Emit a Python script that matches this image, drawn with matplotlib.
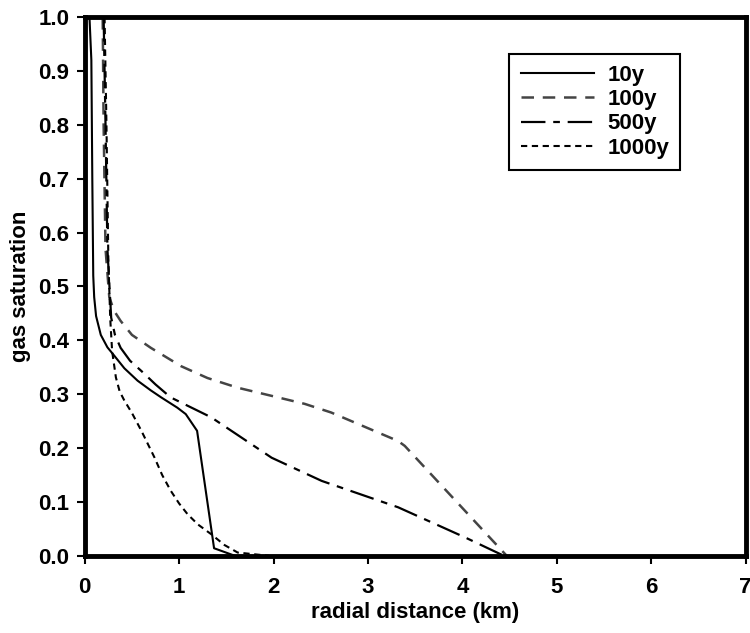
import matplotlib
matplotlib.use('Agg')
import matplotlib.pyplot as plt

plt.rcParams['font.family'] = ['Liberation Sans', 'DejaVu Sans']
plt.rcParams['font.weight'] = 'bold'

# Donnees (distance en km, saturation en gaz)
x_10 = [0.05, 0.07, 0.08, 0.09, 0.10, 0.12, 0.17, 0.24, 0.31, 0.42, 0.56, 0.70, 0.81, 0.98, 1.07, 1.19, 1.37, 1.59]
s_10 = [1.00, 0.92, 0.70, 0.52, 0.48, 0.445, 0.41, 0.387, 0.372, 0.348, 0.325, 0.307, 0.294, 0.275, 0.263, 0.232, 0.014, 0.0]

x_100 = [0.19, 0.20, 0.22, 0.26, 0.31, 0.38, 0.50, 0.70, 1.02, 1.30, 1.62, 2.00, 2.33, 2.61, 3.32, 3.39, 4.47]
s_100 = [1.00, 0.80, 0.57, 0.48, 0.455, 0.436, 0.41, 0.386, 0.352, 0.33, 0.312, 0.296, 0.282, 0.266, 0.213, 0.204, 0.0]

x_500 = [0.20, 0.22, 0.24, 0.28, 0.32, 0.38, 0.48, 0.60, 0.75, 0.91, 1.34, 1.98, 2.51, 3.32, 4.03, 4.44]
s_500 = [1.00, 0.80, 0.57, 0.442, 0.41, 0.386, 0.362, 0.343, 0.318, 0.294, 0.257, 0.182, 0.139, 0.09, 0.034, 0.0]

x_1000 = [0.21, 0.23, 0.25, 0.27, 0.29, 0.33, 0.37, 0.42, 0.50, 0.60, 0.74, 0.82, 0.91, 1.00, 1.09, 1.20, 1.34, 1.48, 1.62, 1.95]
s_1000 = [1.00, 0.80, 0.55, 0.44, 0.38, 0.331, 0.305, 0.288, 0.265, 0.232, 0.182, 0.15, 0.121, 0.097, 0.077, 0.058, 0.04, 0.02, 0.006, 0.0]

fig = plt.figure(figsize=(7.5, 6.33), dpi=100)
ax = fig.add_axes([0.113, 0.122, 0.881, 0.851])

ax.plot(x_10, s_10, color='black', lw=1.5, label='10y')
ax.plot(x_100, s_100, color='#444444', lw=1.8, dashes=(5, 3.5), label='100y')
ax.plot(x_500, s_500, color='black', lw=1.6, dashes=(11, 3.5, 3, 3.5), label='500y')
ax.plot(x_1000, s_1000, color='black', lw=1.5, dashes=(3, 2.2), label='1000y')

ax.set_xlim(0, 7)
ax.set_ylim(0, 1)
ax.set_xticks(range(8))
ax.set_yticks([i / 10 for i in range(11)])
ax.set_yticklabels(['%.1f' % (i / 10) for i in range(11)])

for s in ax.spines.values():
    s.set_linewidth(3.5)
ax.tick_params(direction='out', length=6, width=1.5, labelsize=16)
ax.tick_params(axis='x', pad=9)
ax.tick_params(axis='y', pad=5)

ax.set_xlabel('radial distance (km)', fontsize=16, fontweight='bold', labelpad=3)
ax.set_ylabel('gas saturation', fontsize=16, fontweight='bold', labelpad=5)

leg = ax.legend(loc='upper right', bbox_to_anchor=(0.918, 0.953), fontsize=16,
                handlelength=3.3, handletextpad=0.6, fancybox=False, framealpha=1,
                borderpad=0.5, labelspacing=0.15)
leg.get_frame().set_edgecolor('black')
leg.get_frame().set_linewidth(1.5)

plt.savefig('out.png', dpi=100)
